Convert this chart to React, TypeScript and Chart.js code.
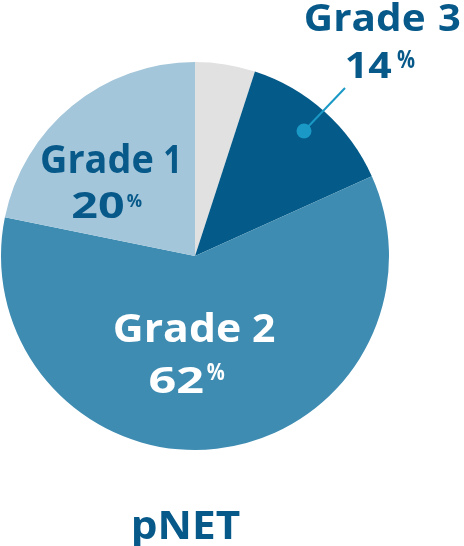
import React, { useEffect, useRef } from "react";
import { Chart, registerables } from "chart.js";

Chart.register(...registerables);

const categories = ["Other", "Grade 3", "Grade 2", "Grade 1"];
const shares = [5.0, 13.25, 59.95, 21.8];
const sliceColors = ["#e1e1e1", "#045a88", "#3e8cb2", "#a3c6da"];
const gradeWord = "Grade";
const gradeNumbers = ["3", "2", "1"];
const labelValues = ["14", "62", "20"];
const caption = "pNET";

const DARK = "#07598a";
const WHITE = "#ffffff";
const FONT = "'Open Sans', sans-serif";

const labelPlugin = {
  id: "labels",
  afterDraw(chart: any) {
    const ctx = chart.ctx as CanvasRenderingContext2D;

    // draw text so that its ink spans [x0, x1] on the given baseline
    const fit = (t: string, x0: number, x1: number, base: number, size: number, color: string) => {
      ctx.save();
      ctx.font = `700 ${size}px ${FONT}`;
      ctx.textAlign = "left";
      ctx.textBaseline = "alphabetic";
      ctx.fillStyle = color;
      const m = ctx.measureText(t);
      const inkL = m.actualBoundingBoxLeft;
      const inkW = m.actualBoundingBoxLeft + m.actualBoundingBoxRight;
      const s = (x1 - x0) / inkW;
      ctx.translate(x0, base);
      ctx.scale(s, 1);
      ctx.fillText(t, inkL, 0);
      ctx.restore();
    };

    // leader line for Grade 3
    ctx.save();
    ctx.strokeStyle = "#1a98c6";
    ctx.lineWidth = 2;
    ctx.beginPath();
    ctx.moveTo(304, 131);
    ctx.lineTo(345, 88);
    ctx.stroke();
    ctx.fillStyle = "#1a98c6";
    ctx.beginPath();
    ctx.arc(304, 131, 7.5, 0, Math.PI * 2);
    ctx.fill();
    ctx.restore();

    // Grade 3
    fit(gradeWord, 306, 424, 31, 38, DARK);
    fit(gradeNumbers[0], 439, 460, 31, 38, DARK);
    fit(labelValues[0], 347, 391, 78.3, 36, DARK);
    fit("%", 397, 415, 68.3, 24.5, DARK);

    // Grade 2
    fit(gradeWord, 115, 240, 341.5, 39, WHITE);
    fit(gradeNumbers[1], 253, 275, 341.5, 39, WHITE);
    fit(labelValues[1], 150, 202.7, 393.3, 35, WHITE);
    fit("%", 206.7, 225, 380, 23, WHITE);

    // Grade 1
    fit(gradeWord, 42, 153, 173, 38.5, DARK);
    fit(gradeNumbers[2], 165, 177, 173, 38.5, DARK);
    fit(labelValues[2], 72.7, 123.3, 217.7, 35, DARK);
    fit("%", 126.7, 141.7, 207.3, 17, DARK);

    // caption
    fit(caption, 134, 240, 539, 40, DARK);
  },
};

export default function App() {
  const ref = useRef<HTMLCanvasElement | null>(null);
  useEffect(() => {
    if (!ref.current) return;
    const chart = new Chart(ref.current, {
      type: "pie",
      data: {
        labels: categories,
        datasets: [
          {
            data: shares,
            backgroundColor: sliceColors,
            borderWidth: 0,
          },
        ],
      },
      options: {
        animation: false,
        responsive: false,
        maintainAspectRatio: false,
        layout: { padding: { left: 1, right: 75, top: 62, bottom: 96 } },
        plugins: {
          legend: { display: false },
          tooltip: { enabled: false },
        },
      },
      plugins: [labelPlugin],
    });
    return () => chart.destroy();
  }, []);
  return (
    <div style={{ position: "fixed", left: 0, top: 0, width: 464, height: 546, background: "#fff" }}>
      <canvas ref={ref} width={464} height={546} style={{ width: 464, height: 546 }} />
    </div>
  );
}
